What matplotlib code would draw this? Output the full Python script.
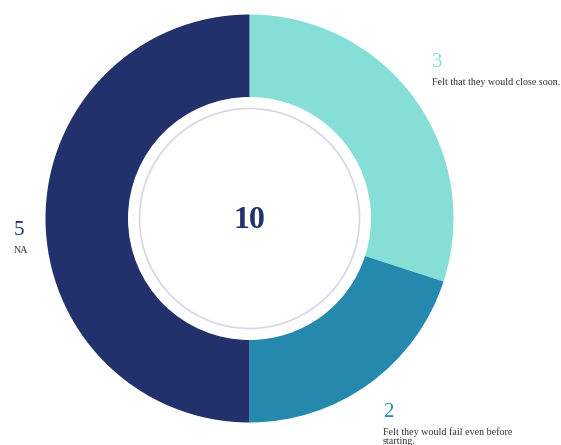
import matplotlib
matplotlib.use('Agg')
import matplotlib.pyplot as plt
from matplotlib.patches import Circle

labels = ['Felt that they would close soon.',
          'Felt they would fail even before\nstarting.',
          'NA']
counts = [3, 2, 5]
colors = ['#86DFD6', '#2589AE', '#22306B']
total = sum(counts)

W, H = 561, 445
cx, cy = 249.5, H - 218.5   # donut centre in pixels
r_out, r_in = 204, 121.5

plt.rcParams['font.family'] = ['Liberation Serif', 'DejaVu Serif']

fig = plt.figure(figsize=(W / 100, H / 100), dpi=100)
ax = fig.add_axes([0, 0, 1, 1])

ax.pie(counts, colors=colors, startangle=90, counterclock=False,
       radius=r_out, center=(cx, cy),
       wedgeprops=dict(width=r_out - r_in, linewidth=0))

# thin ring inside the hole
ax.add_patch(Circle((cx, cy), 110, fill=False, edgecolor='#D6D6E6', linewidth=1.2))

# total in the middle
ax.text(cx, H - 228, str(total), ha='center', va='baseline',
        fontsize=23, fontweight='bold', color='#1F3370')

# labels: (x, number baseline, baseline of first text line)
label_pos = [(432, 67, 85), (383, 417, 434), (14, 235, 253)]
line_step = 10
for (x, ny, ty), n, lab, c in zip(label_pos, counts, labels, colors):
    ax.text(x, H - ny, str(n), fontsize=15, color=c, ha='left', va='baseline')
    # multi-line text is aligned on the last line's baseline
    last = ty + line_step * lab.count('\n')
    ax.text(x, H - last, lab, fontsize=7.2, color='#333333', ha='left',
            va='baseline', linespacing=1.0)

ax.set_xlim(0, W)
ax.set_ylim(0, H)
ax.set_aspect('equal')
ax.axis('off')

fig.savefig('out.png', dpi=100, facecolor='white')
